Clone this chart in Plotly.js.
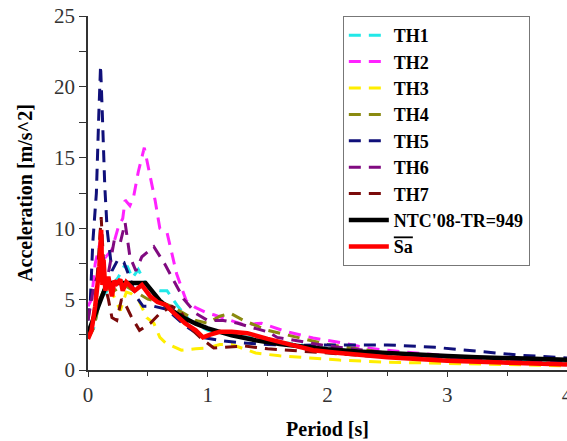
<!DOCTYPE html>
<html>
<head>
<meta charset="utf-8">
<script src="https://cdn.plot.ly/plotly-3.0.1.min.js"></script>
<style>
html,body{margin:0;padding:0;background:#fff;}
#chart{width:567px;height:441px;}
</style>
</head>
<body>
<div id="chart"></div>
<script>
// Series names
var seriesNames = ["TH1", "TH2", "TH3", "TH4", "TH5", "TH6", "TH7"];
var codeName = "NTC'08-TR=949";
var meanName = "Sa";

// TH1
var th1T = [0, 0.05, 0.1, 0.15, 0.2, 0.25, 0.3, 0.33, 0.37, 0.42, 0.5, 0.6, 0.66, 0.75, 0.85, 1.0, 1.2, 1.5, 2.0, 2.5, 3.0, 3.5, 4.0];
var th1A = [2.3, 3.0, 5.0, 5.5, 6.0, 6.5, 7.3, 7.3, 6.5, 7.1, 5.8, 5.6, 5.6, 4.5, 3.5, 2.8, 2.5, 2.1, 1.5, 1.1, 0.85, 0.65, 0.5];
// TH2
var th2T = [0, 0.03, 0.06, 0.1, 0.15, 0.2, 0.25, 0.29, 0.31, 0.35, 0.38, 0.42, 0.47, 0.5, 0.56, 0.6, 0.66, 0.74, 0.82, 0.9, 1.0, 1.05, 1.2, 1.3, 1.45, 1.66, 1.88, 2.13, 2.33, 2.6, 3.0, 3.5, 4.0];
var th2A = [4.5, 5.0, 7.5, 9.0, 8.0, 8.5, 10.0, 10.7, 12.0, 11.6, 12.2, 14.0, 15.7, 14.5, 12.0, 10.0, 9.7, 6.8, 4.9, 4.4, 4.0, 3.9, 3.5, 3.2, 3.3, 2.7, 2.26, 1.9, 1.55, 1.3, 1.0, 0.8, 0.6];
// TH3
var th3T = [0, 0.05, 0.1, 0.15, 0.2, 0.27, 0.32, 0.36, 0.42, 0.49, 0.55, 0.6, 0.65, 0.78, 0.9, 1.0, 1.1, 1.2, 1.4, 1.6, 1.85, 2.1, 2.5, 3.0, 3.5, 4.0];
var th3A = [2.2, 3.5, 5.0, 6.0, 5.5, 4.2, 5.5, 5.4, 5.0, 3.7, 3.3, 2.3, 1.9, 1.4, 1.5, 1.55, 1.8, 1.8, 1.2, 1.0, 0.85, 0.7, 0.55, 0.45, 0.38, 0.3];
// TH4
var th4T = [0, 0.05, 0.1, 0.15, 0.2, 0.3, 0.4, 0.5, 0.6, 0.7, 0.8, 0.9, 1.0, 1.1, 1.19, 1.3, 1.5, 1.8, 2.0, 2.5, 3.0, 3.5, 4.0];
var th4A = [2.2, 3.0, 5.0, 6.0, 5.5, 6.0, 5.5, 5.0, 4.8, 4.5, 4.0, 3.5, 3.3, 3.8, 4.0, 3.5, 2.8, 2.2, 1.8, 1.2, 0.8, 0.6, 0.45];
// TH5
var th5T = [0, 0.02, 0.04, 0.07, 0.09, 0.105, 0.12, 0.14, 0.16, 0.2, 0.25, 0.3, 0.35, 0.4, 0.46, 0.55, 0.65, 0.71, 0.8, 0.96, 1.09, 1.3, 1.5, 1.8, 2.1, 2.5, 2.9, 3.3, 3.6, 4.0];
var th5A = [3.5, 5.0, 9.0, 12.5, 18.0, 21.5, 18.0, 13.0, 9.9, 7.0, 7.8, 7.6, 6.5, 5.2, 4.5, 4.5, 4.3, 3.9, 3.2, 2.3, 2.1, 1.9, 1.8, 1.75, 1.77, 1.77, 1.6, 1.3, 1.05, 0.85];
// TH6
var th6T = [0, 0.05, 0.1, 0.15, 0.18, 0.22, 0.27, 0.31, 0.35, 0.4, 0.45, 0.55, 0.64, 0.71, 0.8, 0.9, 1.0, 1.13, 1.25, 1.37, 1.5, 1.58, 1.8, 2.0, 2.5, 3.0, 3.5, 4.0];
var th6A = [3.5, 6.0, 7.0, 6.0, 7.3, 9.2, 9.0, 10.4, 8.0, 7.0, 8.0, 8.7, 7.5, 6.4, 5.0, 4.0, 3.5, 3.5, 3.3, 3.0, 2.7, 2.3, 2.0, 1.7, 1.2, 0.9, 0.7, 0.55];
// TH7
var th7T = [0, 0.05, 0.08, 0.11, 0.14, 0.17, 0.2, 0.24, 0.28, 0.32, 0.36, 0.43, 0.52, 0.6, 0.7, 0.77, 0.85, 0.95, 1.05, 1.2, 1.3, 1.5, 1.8, 2.0, 2.5, 3.0, 3.5, 4.0];
var th7A = [2.2, 4.0, 7.0, 10.8, 6.0, 5.0, 3.7, 3.5, 5.0, 4.5, 3.8, 2.8, 3.3, 4.0, 4.5, 4.2, 3.0, 2.2, 1.55, 1.65, 1.7, 1.5, 1.3, 1.2, 0.9, 0.7, 0.5, 0.4];
// NTC'08 design spectrum
var ntcT = [0, 0.16, 0.48, 0.6, 0.7, 0.8, 0.9, 1.0, 1.2, 1.4, 1.6, 1.8, 2.0, 2.25, 2.5, 2.75, 3.0, 3.25, 3.5, 3.75, 4.0];
var ntcA = [2.6, 6.15, 6.15, 4.9, 4.2, 3.68, 3.27, 2.94, 2.45, 2.1, 1.84, 1.63, 1.47, 1.31, 1.18, 1.07, 0.98, 0.9, 0.84, 0.78, 0.73];
// Mean spectrum Sa
var saT = [0, 0.03, 0.06, 0.08, 0.095, 0.11, 0.12, 0.13, 0.145, 0.17, 0.2, 0.22, 0.24, 0.27, 0.29, 0.32, 0.36, 0.39, 0.45, 0.52, 0.58, 0.65, 0.72, 0.81, 0.9, 0.96, 1.02, 1.1, 1.2, 1.33, 1.5, 1.7, 1.88, 2.1, 2.5, 3.0, 3.5, 4.0];
var saA = [2.2, 2.8, 4.5, 6.0, 7.3, 9.9, 6.0, 7.8, 5.6, 6.6, 5.2, 6.3, 6.1, 6.4, 5.6, 6.2, 5.8, 5.6, 6.0, 5.2, 4.8, 4.6, 4.0, 3.3, 2.8, 2.3, 2.5, 2.7, 2.7, 2.6, 2.2, 1.8, 1.4, 1.2, 0.9, 0.65, 0.5, 0.38];

var thT = [th1T, th2T, th3T, th4T, th5T, th6T, th7T];
var thA = [th1A, th2A, th3A, th4A, th5A, th6A, th7A];
var thColors = ["#22e8e8", "#ff22ff", "#ffee00", "#8a8a10", "#10107a", "#800a80", "#7a0a0a"];

var traces = [];
for (var i = 0; i < seriesNames.length; i++) {
  traces.push({
    x: thT[i], y: thA[i], name: "<b>" + seriesNames[i] + "</b>", type: "scatter", mode: "lines",
    line: {color: thColors[i], width: 3, dash: "12px,8px"}
  });
}
traces.push({x: ntcT, y: ntcA, name: "<b>" + codeName + "</b>", type: "scatter", mode: "lines",
  line: {color: "#000000", width: 4.5}});
traces.push({x: saT, y: saA, name: '<b><span style="text-decoration:overline">' + meanName + '</span></b>',
  type: "scatter", mode: "lines", line: {color: "#ff0000", width: 4.5}});

var layout = {
  width: 567, height: 441,
  margin: {l: 88, r: 0, t: 16, b: 71},
  paper_bgcolor: "#ffffff", plot_bgcolor: "#ffffff",
  font: {family: "Liberation Serif", color: "#000", size: 20},
  showlegend: true,
  legend: {
    x: 0.532, y: 1, xanchor: "left", yanchor: "top",
    bgcolor: "#ffffff", bordercolor: "#777777", borderwidth: 1,
    font: {family: "Liberation Serif", size: 18, color: "#000"},
    itemwidth: 40, tracegroupgap: 0
  },
  xaxis: {
    range: [0, 4], showgrid: false, zeroline: false,
    showline: true, linecolor: "#333", linewidth: 1.5, mirror: false,
    ticks: "outside", ticklen: 5, tickwidth: 1.2, tickcolor: "#333",
    tickvals: [0, 1, 2, 3, 4], ticktext: ["0", "1", "2", "3", "4"],
    ticklabeloverflow: "allow",
    minor: {dtick: 0.5, ticks: "outside", ticklen: 4, tickcolor: "#333", tickwidth: 1.2},
    tickfont: {family: "Liberation Serif", size: 21, color: "#333"},
    title: {text: "<b>Period [s]</b>", font: {family: "Liberation Serif", size: 20, color: "#000"}, standoff: 16}
  },
  yaxis: {
    range: [0, 25], showgrid: false, zeroline: false,
    showline: true, linecolor: "#333", linewidth: 1.5, mirror: false,
    ticks: "outside", ticklen: 7, tickwidth: 1.2, tickcolor: "#333",
    tickvals: [0, 5, 10, 15, 20, 25], ticktext: ["0", "5", "10", "15", "20", "25"],
    ticklabeloverflow: "allow",
    minor: {dtick: 2.5, ticks: "outside", ticklen: 7, tickcolor: "#333", tickwidth: 1.2},
    tickfont: {family: "Liberation Serif", size: 21, color: "#333"},
    title: {text: "<b>Acceleration [m/s^2]</b>", font: {family: "Liberation Serif", size: 20, color: "#000"}, standoff: 16}
  }
};

Plotly.newPlot("chart", traces, layout, {displayModeBar: false});
</script>
</body>
</html>
